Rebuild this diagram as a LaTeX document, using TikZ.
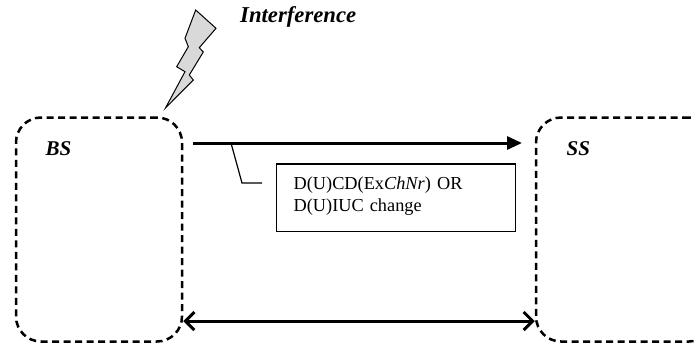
\documentclass[tikz,border=0pt]{standalone}
\usepackage{fontspec}
\setmainfont{Liberation Serif}
\usetikzlibrary{arrows.meta}

\tikzset{
  station/.style={draw, line width=2.5pt, dash pattern=on 7pt off 4.5pt, rounded corners=25pt},
  stalabel/.style={font=\fontsize{21}{23}\selectfont\bfseries\itshape, anchor=base west, inner sep=0pt},
  msgbox/.style={draw, line width=1.3pt, align=left, font=\fontsize{18.3}{22.3}\selectfont,
    inner xsep=17pt, inner ysep=0pt},
  link/.style={line width=3pt}
}

\begin{document}
\begin{tikzpicture}[x=1pt, y=-1pt]
        \clip (0,0) rectangle (694,346);
        % stations
        \node[station, minimum width=166pt, minimum height=224pt] (bs) at (99,229.5) {};
        \node[station, minimum width=178pt, minimum height=224pt] (ss) at (625,229.5) {};
        \node[stalabel] (bslabel) at (45.5,155) {BS};
        \node[stalabel] (sslabel) at (566.5,155) {SS};
        % interference
        \filldraw[fill=gray!30, line width=1pt, line join=miter]
          (195.7,10) -- (216,28.3) -- (199.3,47.7) -- (203.3,52) -- (189.3,75) -- (193.3,80)
          -- (165.5,108) -- (185,71.7) -- (176.7,66.7) -- (188.3,46.7) -- (185,38.3) -- cycle;
        \node[stalabel, font=\fontsize{22.7}{24}\selectfont\bfseries\itshape] (intf) at (240,22.7) {Interference};
        % links
        \coordinate (dl start) at (193,143);
        \coordinate (dl end) at (522,143);
        \draw[link, -{Triangle[length=15pt, width=13pt]}] (dl start) -- (dl end);
        \draw[link, {Straight Barb[length=9pt, width=18pt]}-{Straight Barb[length=9pt, width=18pt]}]
          (bs.east |- 0,321) -- (ss.west |- 0,321);
        % message
        \node[msgbox, minimum width=239pt, minimum height=67.4pt, text width=205pt, anchor=north west] (msg) at (276,163.3)
          {\rule{0pt}{25.4pt}D(U)CD(Ex\textit{ChNr}) OR\\D(U)IUC change\rule[-19.7pt]{0pt}{19.7pt}};
        \coordinate (tap) at (231,143);
        \draw[line width=1.2pt] (tap) -- (242,183) -- (262,183);
\end{tikzpicture}
\end{document}
